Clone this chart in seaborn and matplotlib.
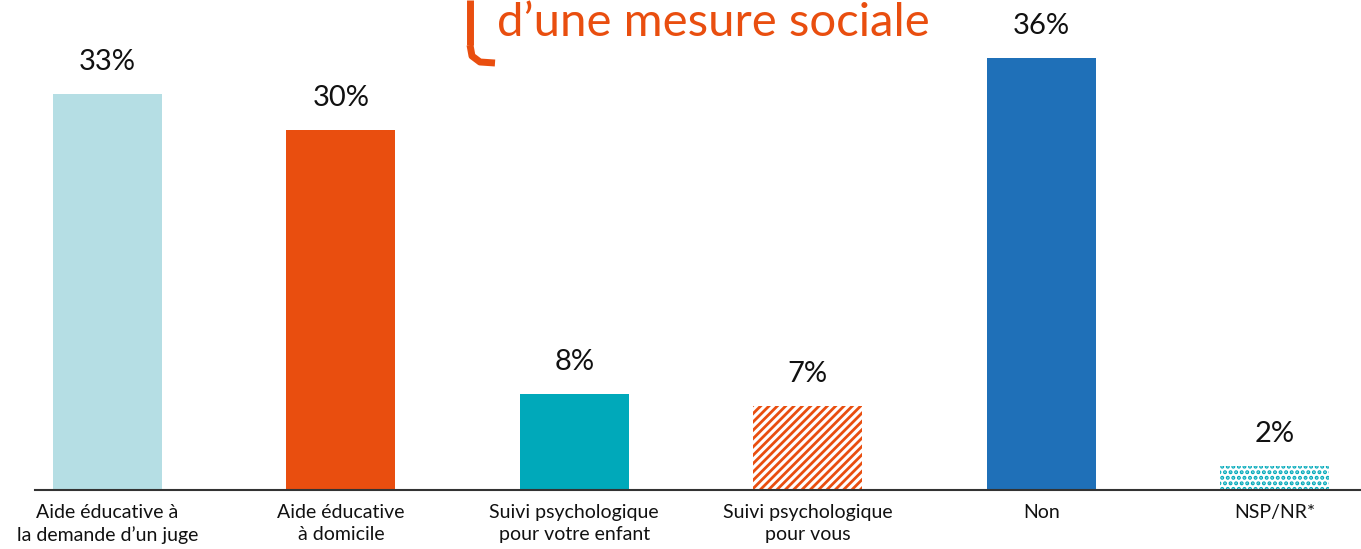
import pandas as pd
import seaborn as sns
import matplotlib.pyplot as plt
from matplotlib.lines import Line2D

# Data
categories = ['Aide éducative à\nla demande d’un juge', 'Aide éducative\nà domicile',
              'Suivi psychologique\npour votre enfant', 'Suivi psychologique\npour vous',
              'Non', 'NSP/NR*']
values = [33, 30, 8, 7, 36, 2]
colors = ['#B5DEE4', '#E94E0F', '#00A9BA', '#E94E0F', '#1F70B8', '#00A9BA']
hatches = [None, None, None, '////', None, '...']

df = pd.DataFrame({'cat': categories, 'val': values})

sns.set_style('white')
plt.rcParams['font.family'] = ['Lato', 'DejaVu Sans']
plt.rcParams['hatch.linewidth'] = 2.0

fig = plt.figure(figsize=(13.61, 5.49), dpi=100)
ax = fig.add_axes([35 / 1361, 59 / 549, 1 - 35 / 1361, 490 / 549])

sns.barplot(data=df, x='cat', y='val', hue='cat', palette=colors, legend=False,
            width=0.467, ax=ax, saturation=1)

for patch, col, h in zip(ax.patches, colors, hatches):
    patch.set_linewidth(0)
    if h:
        patch.set_facecolor('white')
        patch.set_edgecolor(col)
        patch.set_hatch(h)

for i, v in enumerate(values):
    ax.text(i, v + 2.7, f'{v}%', ha='center', va='center', fontsize=21, color='#111111')

ax.set_xlim(-0.31, 5.37)
ax.set_ylim(0, 490 / 12)
ax.set_xlabel('')
ax.set_ylabel('')
ax.set_yticks([])
ax.tick_params(axis='x', length=0, labelsize=14, pad=10, colors='#111111')
for lbl in ax.get_xticklabels():
    lbl.set_linespacing(1.35)
for s in ['top', 'right', 'left']:
    ax.spines[s].set_visible(False)
ax.spines['bottom'].set_color('#333333')
ax.spines['bottom'].set_linewidth(1.5)

# title (cropped at the top in the reference)
fig.text(713 / 1361, 1 - 23 / 549, 'd’une mesure sociale', ha='center', va='center',
         fontsize=34, color='#E94E0F')
# bracket left of the title
fig.add_artist(Line2D([470 / 1361, 470 / 1361], [1, 1 - 45 / 549], color='#E94E0F',
                      lw=5, solid_capstyle='butt'))
fig.add_artist(Line2D([470 / 1361, 472 / 1361, 480 / 1361, 495 / 1361],
                      [1 - 45 / 549, 1 - 56 / 549, 1 - 62 / 549, 1 - 63 / 549],
                      color='#E94E0F', lw=5, solid_capstyle='butt'))

fig.savefig('out.png', dpi=100)
